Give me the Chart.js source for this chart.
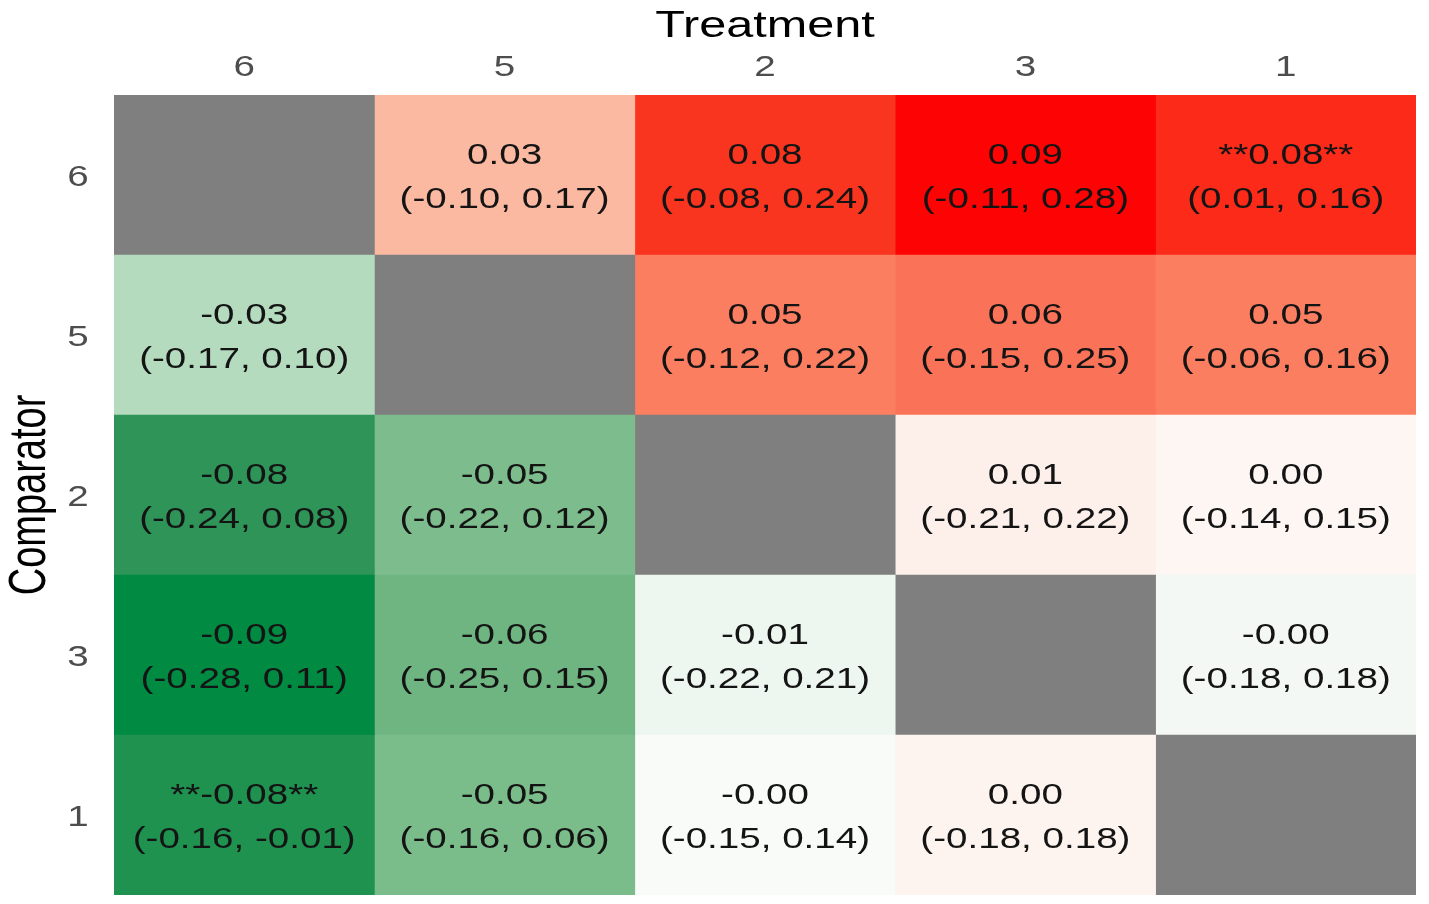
<!DOCTYPE html>
<html>
<head>
<meta charset="utf-8">
<script src="https://cdn.jsdelivr.net/npm/chart.js@4/dist/chart.umd.min.js"></script>
<style>
  html, body { margin: 0; padding: 0; background: #ffffff; }
  #wrap { width: 1429px; height: 904px; }
</style>
</head>
<body>
<div id="wrap"><canvas id="heat"></canvas></div>
<script>
// columns (top axis) and rows (left axis)
const TREATMENTS  = ['6', '5', '2', '3', '1'];
const COMPARATORS = ['6', '5', '2', '3', '1'];

// point estimate text per cell, row by row (null = diagonal)
const EST_TEXT = [
  [null,        '0.03',  '0.08',  '0.09',  '**0.08**'],
  ['-0.03',     null,    '0.05',  '0.06',  '0.05'],
  ['-0.08',     '-0.05', null,    '0.01',  '0.00'],
  ['-0.09',     '-0.06', '-0.01', null,    '-0.00'],
  ['**-0.08**', '-0.05', '-0.00', '0.00',  null],
];

const CI_TEXT = [
  [null,            '(-0.10, 0.17)', '(-0.08, 0.24)', '(-0.11, 0.28)', '(0.01, 0.16)'],
  ['(-0.17, 0.10)', null,            '(-0.12, 0.22)', '(-0.15, 0.25)', '(-0.06, 0.16)'],
  ['(-0.24, 0.08)', '(-0.22, 0.12)', null,            '(-0.21, 0.22)', '(-0.14, 0.15)'],
  ['(-0.28, 0.11)', '(-0.25, 0.15)', '(-0.22, 0.21)', null,            '(-0.18, 0.18)'],
  ['(-0.16, -0.01)','(-0.16, 0.06)', '(-0.15, 0.14)', '(-0.18, 0.18)', null],
];

// fill colours
const CELL_FILL = [
  ['#7f7f7f', '#fbb9a1', '#f93520', '#fd0303', '#fc2a19'],
  ['#b5dbbf', '#7f7f7f', '#fb7e61', '#fa7358', '#fb7e60'],
  ['#2e9458', '#7dbd8d', '#7f7f7f', '#fdf0eb', '#fdf6f3'],
  ['#008a42', '#6fb582', '#eef6f0', '#7f7f7f', '#f3f8f4'],
  ['#1f9250', '#7abd8b', '#f8fbf8', '#fdf3ef', '#7f7f7f'],
];

const STRETCH = 1.33;

// one dataset per treatment column; each bar spans [c, c+1] on x
const datasets = TREATMENTS.map((t, c) => ({
  label: t,
  data: COMPARATORS.map(() => [c, c + 1]),
  backgroundColor: COMPARATORS.map((_, r) => CELL_FILL[r][c]),
  borderWidth: 0,
  barPercentage: 1,
  categoryPercentage: 1,
  grouped: false,
}));

function stretchedText(ctx, text, x, y, sx) {
  ctx.save();
  ctx.translate(x, y);
  ctx.scale(sx, 1);
  ctx.fillText(text, 0, 0);
  ctx.restore();
}

const labelsPlugin = {
  id: 'cellLabels',
  afterDatasetsDraw(chart) {
    const ctx = chart.ctx;
    const xs = chart.scales.x, ys = chart.scales.y;
    const area = chart.chartArea;
    ctx.save();
    ctx.textAlign = 'center';
    ctx.textBaseline = 'middle';

    // cell texts
    ctx.fillStyle = '#141414';
    ctx.font = '29px "Liberation Sans", Arial, sans-serif';
    COMPARATORS.forEach((_, r) => {
      const cy = ys.getPixelForValue(r);
      TREATMENTS.forEach((_, c) => {
        if (EST_TEXT[r][c] === null) return;
        const cx = xs.getPixelForValue(c + 0.5);
        stretchedText(ctx, EST_TEXT[r][c], cx, cy - 19, STRETCH);
        stretchedText(ctx, CI_TEXT[r][c], cx, cy + 25, STRETCH);
      });
    });

    // tick labels
    ctx.fillStyle = '#4d4d4d';
    ctx.font = '29px "Liberation Sans", Arial, sans-serif';
    TREATMENTS.forEach((t, c) => {
      stretchedText(ctx, t, xs.getPixelForValue(c + 0.5), area.top - 27, STRETCH);
    });
    COMPARATORS.forEach((lab, r) => {
      stretchedText(ctx, lab, area.left - 36, ys.getPixelForValue(r) + 3, STRETCH);
    });

    // axis titles
    ctx.fillStyle = '#000000';
    ctx.font = '36px "Liberation Sans", Arial, sans-serif';
    stretchedText(ctx, 'Treatment', (area.left + area.right) / 2, 27, 1.35);

    ctx.font = '38px "Liberation Sans", Arial, sans-serif';
    ctx.save();
    ctx.translate(31, (area.top + area.bottom) / 2);
    ctx.rotate(-Math.PI / 2);
    ctx.scale(1, 1.35);
    ctx.fillText('Comparator', 0, 0);
    ctx.restore();

    ctx.restore();
  }
};

new Chart(document.getElementById('heat'), {
  type: 'bar',
  data: { labels: COMPARATORS, datasets },
  options: {
    indexAxis: 'y',
    responsive: true,
    maintainAspectRatio: false,
    animation: false,
    layout: { padding: { left: 114, right: 13, top: 95, bottom: 9 } },
    plugins: {
      legend: { display: false },
      tooltip: { enabled: false },
    },
    scales: {
      x: { type: 'linear', min: 0, max: TREATMENTS.length, display: false },
      y: { type: 'category', display: false, offset: true },
    },
  },
  plugins: [labelsPlugin],
});
</script>
</body>
</html>
